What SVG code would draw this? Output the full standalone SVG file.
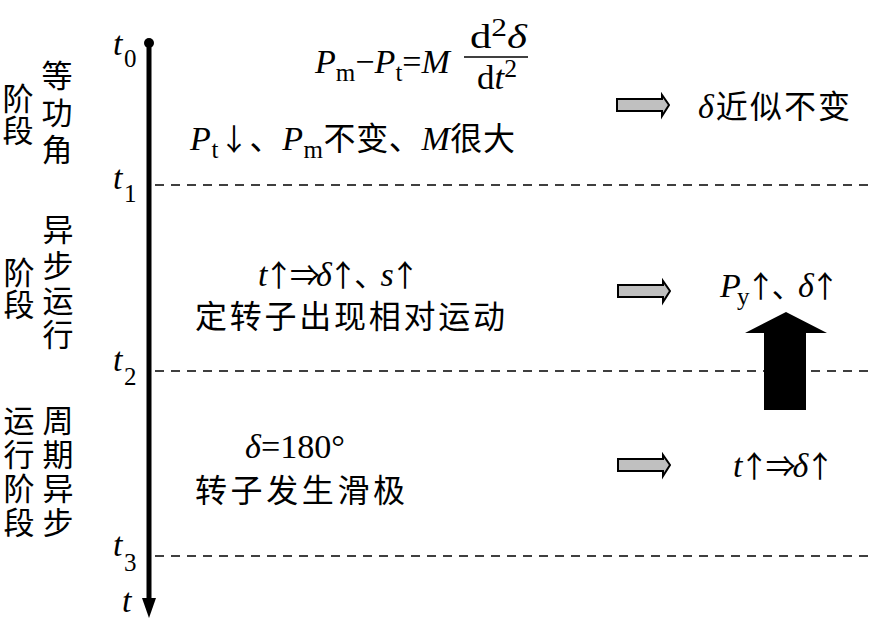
<svg xmlns="http://www.w3.org/2000/svg" width="870" height="619" viewBox="0 0 870 619">
<style>
text{font-family:"Liberation Serif","Noto Sans CJK SC",serif;fill:#000}
.m{font-size:34px}
.cj{font-size:32px}
.i{font-style:italic}
.sb{font-size:25px}
.ar{font-family:"Noto Sans CJK SC",sans-serif;font-size:30px}
.col{font-size:31px;text-anchor:middle}
.dash{stroke:#000;stroke-width:1.5;stroke-dasharray:9 7;fill:none}
.ga{fill:#c0c0c0;stroke:#000;stroke-width:2}
</style>
<rect width="870" height="619" fill="#fff"/>

<g id="axis">
<circle cx="149" cy="43" r="5" fill="#000"/>
<line x1="149" y1="43" x2="149" y2="603" stroke="#000" stroke-width="5"/>
<polygon points="142,598 156,598 149,618" fill="#000"/>
<text class="m i" x="113" y="55">t</text><text class="sb" x="124" y="67">0</text>
<text class="m i" x="113" y="189">t</text><text class="sb" x="124" y="202">1</text>
<text class="m i" x="113" y="371">t</text><text class="sb" x="124" y="385">2</text>
<text class="m i" x="113" y="556">t</text><text class="sb" x="124" y="571">3</text>
<text class="m i" x="122" y="612">t</text>
</g>

<g id="connectors">
<line class="dash" x1="155" y1="185" x2="870" y2="185"/>
<line class="dash" x1="155" y1="371" x2="870" y2="371"/>
<line class="dash" x1="155" y1="556" x2="870" y2="556"/>
<path class="ga" d="M617,99 H662 V95 L669,105 L662,116 V111 H617 Z"/>
<path class="ga" d="M618,285 H663 V281 L670,291 L663,302 V297 H618 Z"/>
<path class="ga" d="M618,459 H663 V455 L670,465 L663,476 V471 H618 Z"/>
<polygon points="786,312 827,333 806,333 806,410 764,410 764,333 745,333" fill="#000"/>
</g>

<g id="stage1">
<text class="col" x="18"><tspan x="18" y="110">阶</tspan><tspan x="18" y="142">段</tspan></text>
<text class="col" x="57"><tspan x="57" y="87">等</tspan><tspan x="57" y="124">功</tspan><tspan x="57" y="161">角</tspan></text>
<text class="m" x="315" y="73" textLength="135" lengthAdjust="spacingAndGlyphs"><tspan class="i">P</tspan><tspan class="sb" dy="8">m</tspan><tspan dy="-8">−</tspan><tspan class="i">P</tspan><tspan class="sb" dy="8">t</tspan><tspan dy="-8">=</tspan><tspan class="i">M</tspan></text>
<text class="m" x="470" y="48" textLength="57" lengthAdjust="spacingAndGlyphs">d<tspan class="sb" dy="-12">2</tspan><tspan class="i" dy="12">δ</tspan></text>
<line x1="464" y1="57" x2="528" y2="57" stroke="#000" stroke-width="1.5"/>
<text class="m" x="477" y="89" textLength="40" lengthAdjust="spacingAndGlyphs">d<tspan class="i">t</tspan><tspan class="sb" dy="-12">2</tspan></text>
<text class="m" x="190" y="150" textLength="325" lengthAdjust="spacing"><tspan class="i">P</tspan><tspan class="sb" dy="8">t</tspan><tspan class="ar" dy="-8">↓</tspan><tspan class="cj">、</tspan><tspan class="i">P</tspan><tspan class="sb" dy="8">m</tspan><tspan class="cj" dy="-8">不变、</tspan><tspan class="i">M</tspan><tspan class="cj">很大</tspan></text>
<text class="cj" x="698" y="118" textLength="152" lengthAdjust="spacing"><tspan class="m i">δ</tspan>近似不变</text>
</g>

<g id="stage2">
<text class="col" x="19"><tspan x="19" y="284">阶</tspan><tspan x="19" y="316">段</tspan></text>
<text class="col" x="58"><tspan x="58" y="241">异</tspan><tspan x="58" y="277">步</tspan><tspan x="58" y="312">运</tspan><tspan x="58" y="346">行</tspan></text>
<text class="m" x="258" y="286" textLength="162" lengthAdjust="spacing"><tspan class="i">t</tspan><tspan class="ar">↑⇒</tspan><tspan class="i">δ</tspan><tspan class="ar">↑、</tspan><tspan class="i">s</tspan><tspan class="ar">↑</tspan></text>
<text class="cj" x="195" y="328" textLength="310" lengthAdjust="spacing">定转子出现相对运动</text>
<text class="m" x="720" y="297" textLength="120" lengthAdjust="spacing"><tspan class="i">P</tspan><tspan class="sb" dy="8">y</tspan><tspan class="ar" dy="-8">↑、</tspan><tspan class="i">δ</tspan><tspan class="ar">↑</tspan></text>
</g>

<g id="stage3">
<text class="col" x="19"><tspan x="19" y="432">运</tspan><tspan x="19" y="466">行</tspan><tspan x="19" y="500">阶</tspan><tspan x="19" y="534">段</tspan></text>
<text class="col" x="58"><tspan x="58" y="432">周</tspan><tspan x="58" y="466">期</tspan><tspan x="58" y="500">异</tspan><tspan x="58" y="534">步</tspan></text>
<text class="m" x="245" y="458" textLength="100" lengthAdjust="spacingAndGlyphs"><tspan class="i">δ</tspan>=180°</text>
<text class="cj" x="195" y="502" textLength="210" lengthAdjust="spacing">转子发生滑极</text>
<text class="m" x="733" y="477" textLength="102" lengthAdjust="spacing"><tspan class="i">t</tspan><tspan class="ar">↑⇒</tspan><tspan class="i">δ</tspan><tspan class="ar">↑</tspan></text>
</g>
</svg>
